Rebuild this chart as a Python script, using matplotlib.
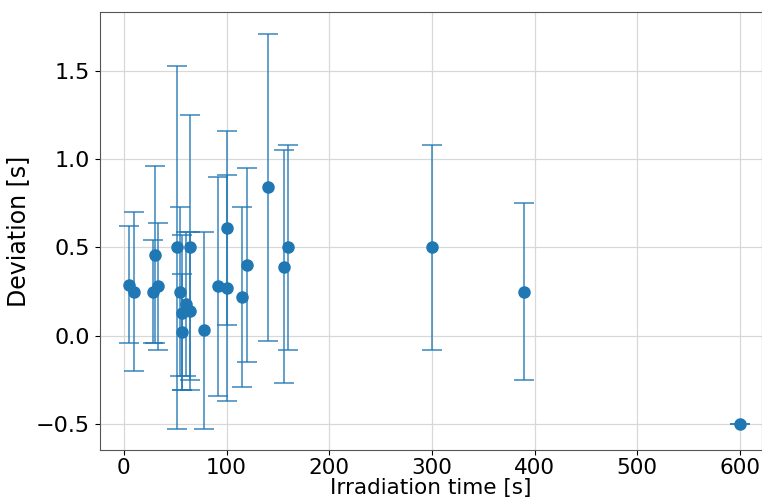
import matplotlib
matplotlib.use("Agg")
from matplotlib import pyplot as plt

# irradiation time [s], deviation [s], error [s]
time = [5, 10, 28, 30, 33, 52, 55, 57, 57, 61, 64, 64,
        78, 92, 100, 100, 115, 120, 140, 156, 160, 300, 390, 600]
deviation = [0.29, 0.25, 0.25, 0.46, 0.28, 0.50, 0.25, 0.13, 0.02, 0.18, 0.50, 0.14,
             0.03, 0.28, 0.27, 0.61, 0.22, 0.40, 0.84, 0.39, 0.50, 0.50, 0.25, -0.50]
error = [0.33, 0.45, 0.29, 0.50, 0.36, 1.03, 0.48, 0.44, 0.33, 0.41, 0.75, 0.45,
         0.56, 0.62, 0.64, 0.55, 0.51, 0.55, 0.87, 0.66, 0.58, 0.58, 0.50, 0.0]

fig = plt.figure(figsize=(7.62, 5.01), dpi=100)
ax = fig.add_axes([0.131, 0.102, 0.869, 0.874])

ax.errorbar(time, deviation, yerr=error, fmt="none", ecolor="#1f77b4",
            elinewidth=1.3, capsize=7, capthick=1.3, alpha=0.75)
ax.plot(time, deviation, "o", color="#1f77b4", markersize=8, zorder=3)

ax.set_xlim(-23.4, 621.5)
ax.set_ylim(-0.647, 1.834)
ax.set_xticks([0, 100, 200, 300, 400, 500, 600])
ax.set_yticks([-0.5, 0.0, 0.5, 1.0, 1.5])
ax.grid(True, color="#d8d8d8", linewidth=0.9)
ax.set_axisbelow(True)
ax.tick_params(labelsize=16)
ax.tick_params(axis="x", labelsize=15.5, pad=2)
ax.set_xlabel("Irradiation time [s]", fontsize=15.5, labelpad=0)
ax.set_ylabel("Deviation [s]", fontsize=17)
for s in ax.spines.values():
    s.set_color("#555555")

fig.savefig("out.png", dpi=100)
